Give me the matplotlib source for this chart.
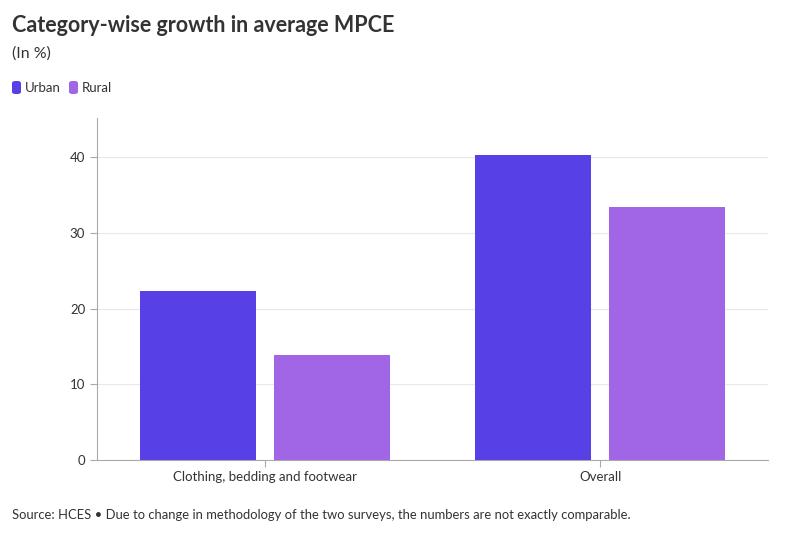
import matplotlib
matplotlib.use("Agg")
import matplotlib.pyplot as plt
import numpy as np

categories = ["Clothing, bedding and footwear", "Overall"]
series_names = ["Urban", "Rural"]
urban = [22.4, 40.3]
rural = [13.9, 33.5]
colors = ["#5640E6", "#A066E5"]

plt.rcParams['font.family'] = ['Lato', 'DejaVu Sans']

fig = plt.figure(figsize=(8, 5.33), dpi=100)
ax = fig.add_axes([97/800, 1-460/533, (768-97)/800, (460-118)/533])

x = np.arange(len(categories))
w = 0.346
ax.bar(x - 0.2, urban, width=w, color=colors[0], zorder=3)
ax.bar(x + 0.2, rural, width=w, color=colors[1], zorder=3)

ax.set_xlim(-0.5, 1.5)
ax.set_ylim(0, 45.2)
ax.set_yticks([0, 10, 20, 30, 40])
ax.set_xticks(x)
ax.set_xticklabels(categories)
ax.grid(axis='y', color='#e8e8e8', linewidth=0.8, zorder=0)
for s in ['top', 'right']:
    ax.spines[s].set_visible(False)
ax.spines['left'].set_color('#aaaaaa')
ax.spines['bottom'].set_color('#aaaaaa')
ax.tick_params(axis='both', colors='#aaaaaa', labelcolor='#333333', labelsize=9.5, length=5, width=0.8)
ax.tick_params(axis='x', length=5, pad=3)

fig.text(12/800, 1-25/533, "Category-wise growth in average MPCE", fontsize=15.5, fontweight='bold',
         color='#333333', va='center', ha='left')
fig.text(12/800, 1-54/533, "(In %)", fontsize=11.5, color='#333333', va='center', ha='left')

# legend
from matplotlib.patches import FancyBboxPatch
lx = 12
for name, c in zip(series_names, colors):
    p = FancyBboxPatch((lx/800, 1-94/533), 9/800, 13/533, boxstyle="round,pad=0,rounding_size=0.004",
                       transform=fig.transFigure, facecolor=c, edgecolor='none')
    fig.patches.append(p)
    t = fig.text((lx+13)/800, 1-88/533, name, fontsize=9.5, color='#333333', va='center', ha='left')
    lx += 13 + (44 if name == "Urban" else 40)

fig.text(12/800, 1-515/533, "Source: HCES \u2022 Due to change in methodology of the two surveys, the numbers are not exactly comparable.",
         fontsize=9.35, color='#333333', va='center', ha='left')

fig.savefig("out.png", dpi=100)
